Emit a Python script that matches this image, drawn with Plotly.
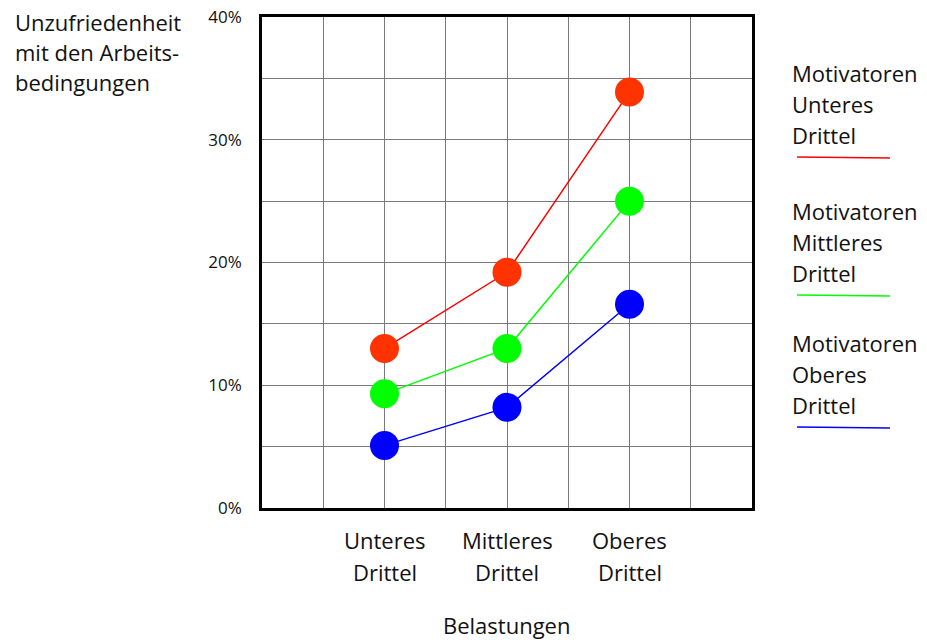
import plotly.graph_objects as go

categories = ["Unteres Drittel", "Mittleres Drittel", "Oberes Drittel"]
cat_pos = [2, 4, 6]
series_names = ["Motivatoren Unteres Drittel", "Motivatoren Mittleres Drittel", "Motivatoren Oberes Drittel"]
values_unteres = [13.0, 19.2, 33.9]
values_mittleres = [9.3, 13.0, 25.0]
values_oberes = [5.1, 8.2, 16.6]
line_colors = ["#FF0000", "#00FF00", "#0000FF"]
marker_colors = ["#FF3300", "#00FF00", "#0000FF"]
y_ticks = [0, 5, 10, 15, 20, 25, 30, 35, 40]
y_ticktext = ["0%", "", "10%", "", "20%", "", "30%", "", "40%"]
y_title = ["Unzufriedenheit", "mit den Arbeits-", "bedingungen"]
x_title = "Belastungen"

FONT = "Open Sans"
fig = go.Figure()
all_series = [values_unteres, values_mittleres, values_oberes]
for name, vals, lc, mc in zip(series_names, all_series, line_colors, marker_colors):
    fig.add_trace(go.Scatter(
        x=cat_pos, y=vals, mode="lines+markers", name=name,
        line=dict(color=lc, width=1.5),
        marker=dict(color=mc, size=29, line=dict(width=0)),
        showlegend=False, cliponaxis=False,
    ))

annotations = []
for cat, xp in zip(categories, cat_pos):
    words = cat.split(" ")
    for i, w in enumerate(words):
        annotations.append(dict(x=xp, y=540 + 32 * i, xref="x", yref="paper", text=w,
                                showarrow=False, xanchor="center", yanchor="middle",
                                font=dict(family=FONT, size=22, color="#111")))
annotations.append(dict(x=506, y=625, xref="paper", yref="paper", text=x_title, showarrow=False,
                        xanchor="center", yanchor="middle", font=dict(family=FONT, size=22, color="#111")))
for i, t in enumerate(y_title):
    annotations.append(dict(x=13, y=22 + 30 * i, xref="paper", yref="paper", text=t, showarrow=False,
                            xanchor="left", yanchor="middle", font=dict(family=FONT, size=22, color="#111")))
shapes = []
legend_tops = [73, 211, 343]
for name, lc, top in zip(series_names, line_colors, legend_tops):
    for i, w in enumerate(name.split(" ")):
        annotations.append(dict(x=790, y=top + 31 * i, xref="paper", yref="paper", text=w, showarrow=False,
                                xanchor="left", yanchor="middle", font=dict(family=FONT, size=22, color="#111")))
    shapes.append(dict(type="line", xref="paper", yref="paper", x0=797, x1=890, y0=top + 84, y1=top + 85,
                       line=dict(color=lc, width=1.5)))

W, H = 927, 642
ML, MR, MT, MB = 262, 175, 17, 134
PW, PH = W - ML - MR, H - MT - MB
for a in annotations:
    if a["xref"] == "paper":
        a["x"] = (a["x"] - ML) / PW
    a["y"] = 1 - (a["y"] - MT) / PH
for s in shapes:
    s["x0"] = (s["x0"] - ML) / PW
    s["x1"] = (s["x1"] - ML) / PW
    s["y0"] = 1 - (s["y0"] - MT) / PH
    s["y1"] = 1 - (s["y1"] - MT) / PH

fig.update_layout(
    width=W, height=H,
    margin=dict(l=ML, r=MR, t=MT, b=MB, pad=0, autoexpand=False),
    paper_bgcolor="white", plot_bgcolor="white",
    font=dict(family=FONT, color="#111"),
    annotations=annotations, shapes=shapes,
    xaxis=dict(range=[0, 8], tickvals=list(range(0, 9)), showticklabels=False, ticks="",
               showgrid=True, gridcolor="#7a7a7a", gridwidth=1, zeroline=False,
               showline=True, linecolor="black", linewidth=2.5, mirror=True),
    yaxis=dict(range=[0, 40], tickvals=y_ticks, ticktext=y_ticktext, ticks="",
               tickfont=dict(family=FONT, size=17, color="#111"), ticklabelstandoff=14,
               showgrid=True, gridcolor="#7a7a7a", gridwidth=1, zeroline=False,
               showline=True, linecolor="black", linewidth=2.5, mirror=True),
)
fig.write_html("out.html", config={"displayModeBar": False},
               post_script="document.body.style.margin='0';document.body.style.overflow='hidden';")
